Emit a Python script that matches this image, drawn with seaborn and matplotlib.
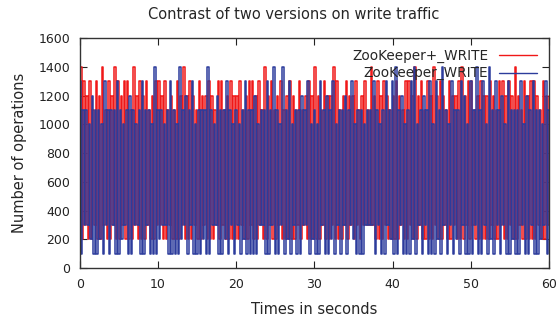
import matplotlib
matplotlib.use("Agg")
import matplotlib.pyplot as plt
import numpy as np
import pandas as pd
import seaborn as sns

# samples every 0.2 s (high/low alternating)
sample_step = 0.2
plus_offset = 0.1  # ZooKeeper+ samples fall between the plain ones

zk_plus_write = [
    1400, 200, 1300, 300, 1200, 200, 1300, 200, 1100, 300,
    1300, 200, 1200, 200, 1400, 300, 1100, 200, 1300, 200,
    1200, 300, 1400, 200, 1300, 200, 1200, 300, 1300, 200,
    1300, 200, 1100, 200, 1400, 300, 1200, 200, 1300, 200,
    1200, 200, 1300, 300, 1100, 200, 1200, 200, 1300, 300,
    1300, 300, 1200, 200, 1300, 200, 1100, 300, 1200, 200,
    1100, 200, 1300, 200, 1200, 300, 1400, 200, 1200, 200,
    1300, 200, 1200, 300, 1100, 200, 1300, 200, 1200, 300,
    1200, 200, 1300, 200, 1200, 200, 1100, 300, 1300, 200,
    1300, 300, 1100, 200, 1200, 200, 1300, 200, 1200, 200,
    1200, 200, 1300, 300, 1100, 200, 1200, 200, 1300, 300,
    1300, 200, 1200, 200, 1300, 300, 1100, 200, 1400, 200,
    1200, 300, 1300, 200, 1100, 200, 1200, 300, 1300, 200,
    1100, 200, 1200, 200, 1300, 200, 1200, 200, 1100, 300,
    1300, 200, 1100, 300, 1200, 200, 1300, 200, 1200, 200,
    1400, 200, 1200, 200, 1100, 300, 1300, 200, 1200, 200,
    1200, 300, 1400, 200, 1300, 200, 1100, 200, 1200, 300,
    1300, 200, 1200, 300, 1200, 200, 1300, 300, 1100, 200,
    1200, 300, 1300, 300, 1100, 300, 1400, 300, 1200, 200,
    1300, 200, 1200, 200, 1300, 300, 1200, 200, 1100, 200,
    1200, 200, 1300, 200, 1200, 300, 1100, 200, 1300, 200,
    1300, 300, 1200, 200, 1400, 200, 1200, 300, 1300, 200,
    1100, 200, 1300, 200, 1200, 200, 1400, 300, 1200, 200,
    1300, 200, 1200, 300, 1100, 200, 1300, 200, 1200, 300,
    1200, 200, 1300, 200, 1400, 200, 1200, 300, 1300, 200,
    1300, 300, 1100, 200, 1200, 200, 1300, 200, 1200, 200,
    1200, 200, 1300, 300, 1200, 200, 1100, 200, 1300, 300,
    1300, 200, 1200, 200, 1300, 300, 1200, 200, 1400, 200,
    1200, 300, 1100, 200, 1300, 200, 1200, 200, 1300, 200,
    1300, 200, 1200, 300, 1100, 200, 1300, 200, 1200, 300,
    1200,
]

zk_write = [
    1300, 100, 1100, 300, 1100, 300, 1000, 200, 1200, 100,
    1100, 100, 1100, 200, 1000, 100, 1300, 300, 1100, 100,
    1100, 300, 1100, 100, 1300, 100, 1100, 200, 1000, 300,
    1100, 100, 1200, 100, 1100, 300, 1000, 300, 1100, 100,
    1300, 100, 1100, 300, 1100, 100, 1000, 100, 1400, 100,
    1100, 200, 1100, 300, 1000, 300, 1100, 100, 1300, 100,
    1100, 100, 1000, 100, 1400, 200, 1100, 300, 1200, 100,
    1100, 300, 1300, 100, 1000, 100, 1100, 100, 1100, 200,
    1100, 100, 1400, 100, 1100, 300, 1000, 300, 1200, 100,
    1100, 100, 1100, 200, 1300, 100, 1100, 300, 1000, 100,
    1100, 300, 1000, 100, 1100, 200, 1300, 100, 1100, 100,
    1100, 100, 1200, 100, 1000, 300, 1100, 300, 1100, 100,
    1300, 100, 1100, 300, 1400, 100, 1100, 100, 1000, 300,
    1400, 100, 1100, 200, 1300, 100, 1000, 300, 1100, 100,
    1100, 100, 1200, 300, 1100, 300, 1300, 100, 1000, 200,
    1100, 100, 1000, 100, 1300, 300, 1100, 100, 1200, 100,
    1100, 200, 1300, 100, 1000, 300, 1100, 100, 1100, 300,
    1200, 100, 1100, 300, 1300, 200, 1000, 100, 1100, 100,
    1100, 100, 1000, 300, 1100, 300, 1100, 300, 1300, 100,
    1100, 300, 1000, 100, 1100, 100, 1300, 300, 1100, 200,
    1300, 100, 1400, 100, 1100, 300, 1200, 100, 1000, 100,
    1100, 100, 1300, 200, 1400, 100, 1000, 300, 1100, 100,
    1200, 300, 1100, 100, 1300, 100, 1000, 100, 1300, 200,
    1100, 100, 1400, 300, 1100, 100, 1000, 300, 1300, 100,
    1100, 200, 1100, 100, 1300, 300, 1200, 100, 1000, 100,
    1300, 100, 1100, 300, 1400, 100, 1100, 100, 1300, 300,
    1000, 100, 1400, 200, 1100, 100, 1300, 300, 1100, 100,
    1200, 300, 1000, 100, 1300, 100, 1100, 200, 1100, 100,
    1100, 100, 1300, 300, 1000, 100, 1200, 100, 1100, 300,
    1300, 100, 1100, 100, 1100, 200, 1000, 300, 1300, 100,
    1100,
]

x_ticks = [0, 10, 20, 30, 40, 50, 60]
y_ticks = [0, 200, 400, 600, 800, 1000, 1200, 1400, 1600]

steps = np.arange(len(zk_write)) * sample_step
df_plus = pd.DataFrame({"time": steps + plus_offset, "ops": zk_plus_write})
df_plain = pd.DataFrame({"time": steps, "ops": zk_write})

sns.set_style("ticks")
plt.rcParams["font.family"] = ["DejaVu Sans"]

fig = plt.figure(figsize=(5.59, 3.31), dpi=100)
ax = fig.add_axes([0.143, 0.190, 0.839, 0.695])

# steps give the vertical spikes gnuplot draws for dense samples
sns.lineplot(data=df_plus, x="time", y="ops", color="#f01818",
             lw=1.1, estimator=None, drawstyle="steps-mid",
             label="ZooKeeper+_WRITE", ax=ax)
sns.lineplot(data=df_plain, x="time", y="ops", color="#2c3c9c",
             lw=1.1, estimator=None, drawstyle="steps-mid",
             label="ZooKeeper_WRITE", ax=ax)

ax.set_xlim(0, 60)
ax.set_ylim(0, 1600)
ax.set_xticks(x_ticks)
ax.set_yticks(y_ticks)
ax.tick_params(direction="in", length=5, top=True, right=True,
               labelsize=9, colors="#222222", pad=7)
for s in ax.spines.values():
    s.set_color("#333333")
    s.set_linewidth(1)

fig.text(0.526, 0.955, "Contrast of two versions on write traffic",
         fontsize=10.5, ha="center", va="center")
ax.set_xlabel("Times in seconds", fontsize=10.5, labelpad=8)
ax.set_ylabel("Number of operations", fontsize=10.5, labelpad=8)

leg = ax.legend(loc="upper right", frameon=False, markerfirst=False,
                fontsize=9.8, handlelength=2.8, labelspacing=0.25,
                borderaxespad=0.3, bbox_to_anchor=(0.995, 0.995))
for line in leg.get_lines():
    line.set_linewidth(1.0)

fig.savefig("out.png", dpi=100)
